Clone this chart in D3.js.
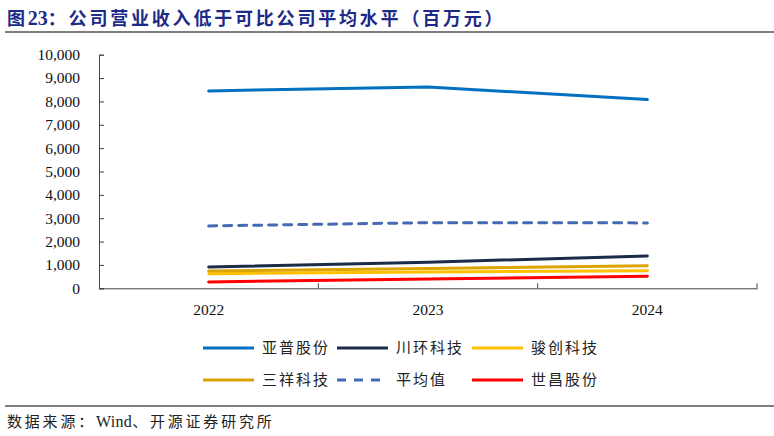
<!DOCTYPE html>
<html>
<head>
<meta charset="utf-8">
<script src="https://cdn.jsdelivr.net/npm/d3@7"></script>
<style>
  body { margin: 0; background: #fff; }
  svg { display: block; }
</style>
</head>
<body>
<div id="chart"></div>
<script>
// data (百万元)
const years = ['2022', '2023', '2024'];
const yapu = [8450, 8620, 8080];      // 亚普股份
const chuanhuan = [910, 1120, 1380];  // 川环科技
const junchuang = [625, 700, 753];    // 骏创科技
const sanxiang = [740, 850, 967];     // 三祥科技
const average = [2670, 2810, 2800];   // 平均值
const shichang = [270, 400, 514];     // 世昌股份
const yTicks = [0, 1000, 2000, 3000, 4000, 5000, 6000, 7000, 8000, 9000, 10000];

const series = [
  { name: '亚普股份', values: yapu, color: '#0070C0', dash: null },
  { name: '川环科技', values: chuanhuan, color: '#1B2B48', dash: null },
  { name: '骏创科技', values: junchuang, color: '#FFC000', dash: null },
  { name: '三祥科技', values: sanxiang, color: '#DBA400', dash: null },
  { name: '平均值', values: average, color: '#4569B2', dash: '8,7' },
  { name: '世昌股份', values: shichang, color: '#FF0000', dash: null }
];

const W = 774, H = 436;
const margin = { left: 99, right: 17, top: 54.7, bottom: 147.7 };
const cjk = '"Noto Sans CJK SC", sans-serif';
const serif = '"Liberation Serif", serif';

const svg = d3.select('#chart').append('svg')
  .attr('width', W).attr('height', H);

// title + rules
const title = svg.append('text')
  .attr('x', 7).attr('y', 25)
  .attr('fill', '#1D2A86')
  .attr('font-family', cjk)
  .attr('font-weight', 'bold')
  .attr('font-size', 18)
  .attr('letter-spacing', 2.8);
title.append('tspan').text('图');
title.append('tspan').attr('font-family', serif).attr('font-size', 20).attr('letter-spacing', 0).text('23');
title.append('tspan').text('：公司营业收入低于可比公司平均水平（百万元）');

svg.append('line')
  .attr('x1', 5).attr('x2', W).attr('y1', 32).attr('y2', 32)
  .attr('stroke', '#555').attr('stroke-width', 1.3);

svg.append('line')
  .attr('x1', 5).attr('x2', W).attr('y1', 406).attr('y2', 406)
  .attr('stroke', '#555').attr('stroke-width', 1.3);

const src = svg.append('text')
  .attr('x', 7).attr('y', 427)
  .attr('fill', '#222')
  .attr('font-family', cjk)
  .attr('font-size', 15)
  .attr('letter-spacing', 2.8);
src.append('tspan').text('数据来源：');
src.append('tspan').attr('font-family', serif).attr('font-size', 16).attr('letter-spacing', 0.3).text('Wind');
src.append('tspan').text('、开源证券研究所');

// scales
const x = d3.scaleBand()
  .domain(years)
  .range([margin.left, W - margin.right]);

const y = d3.scaleLinear()
  .domain([0, 10000])
  .range([H - margin.bottom, margin.top]);

// y axis (ticks point inward)
const yAxis = svg.append('g')
  .attr('transform', `translate(${margin.left},0)`)
  .call(d3.axisRight(y).tickValues(yTicks).tickSize(5).tickFormat(() => ''));
yAxis.select('.domain').attr('stroke', '#444');
yAxis.selectAll('.tick line').attr('stroke', '#444');

svg.append('g').selectAll('text')
  .data(yTicks)
  .join('text')
  .attr('x', 80)
  .attr('y', d => y(d))
  .attr('dy', '0.35em')
  .attr('text-anchor', 'end')
  .attr('font-family', serif)
  .attr('font-size', 15.5)
  .attr('fill', '#111')
  .text(d => d3.format(',')(d));

// x axis
const xAxis = svg.append('g')
  .attr('transform', `translate(0,${y(0)})`)
  .call(d3.axisTop(x).tickSize(0).tickFormat(() => ''));
xAxis.select('.domain').attr('stroke', '#444');

// tick marks on band edges, pointing up
const edges = years.map(d => x(d)).concat([x(years[years.length - 1]) + x.bandwidth()]).slice(1);
svg.append('g').selectAll('line')
  .data(edges)
  .join('line')
  .attr('x1', d => d).attr('x2', d => d)
  .attr('y1', y(0)).attr('y2', y(0) - 5)
  .attr('stroke', '#444');

svg.append('g').selectAll('text')
  .data(years)
  .join('text')
  .attr('x', d => x(d) + x.bandwidth() / 2)
  .attr('y', 315)
  .attr('text-anchor', 'middle')
  .attr('font-family', serif)
  .attr('font-size', 15.5)
  .attr('fill', '#111')
  .text(d => d);

// lines
const line = d3.line()
  .x((d, i) => x(years[i]) + x.bandwidth() / 2)
  .y(d => y(d));

svg.append('g').selectAll('path')
  .data(series)
  .join('path')
  .attr('d', d => line(d.values))
  .attr('fill', 'none')
  .attr('stroke', d => d.color)
  .attr('stroke-width', 3)
  .attr('stroke-linecap', 'round')
  .attr('stroke-dasharray', d => d.dash);

// legend
const legX = [203, 337, 472];
const legY = [348, 380];
const leg = svg.append('g').selectAll('g')
  .data(series)
  .join('g')
  .attr('transform', (d, i) => `translate(${legX[i % 3]},${legY[Math.floor(i / 3)]})`);

leg.append('line')
  .attr('x1', 0).attr('x2', 51)
  .attr('stroke', d => d.color)
  .attr('stroke-width', 3)
  .attr('stroke-dasharray', d => d.dash ? '9,8' : null);

leg.append('text')
  .attr('x', 59)
  .attr('dy', '0.36em')
  .attr('font-family', cjk)
  .attr('font-size', 15)
  .attr('letter-spacing', 2)
  .attr('fill', '#222')
  .text(d => d.name);
</script>
</body>
</html>
